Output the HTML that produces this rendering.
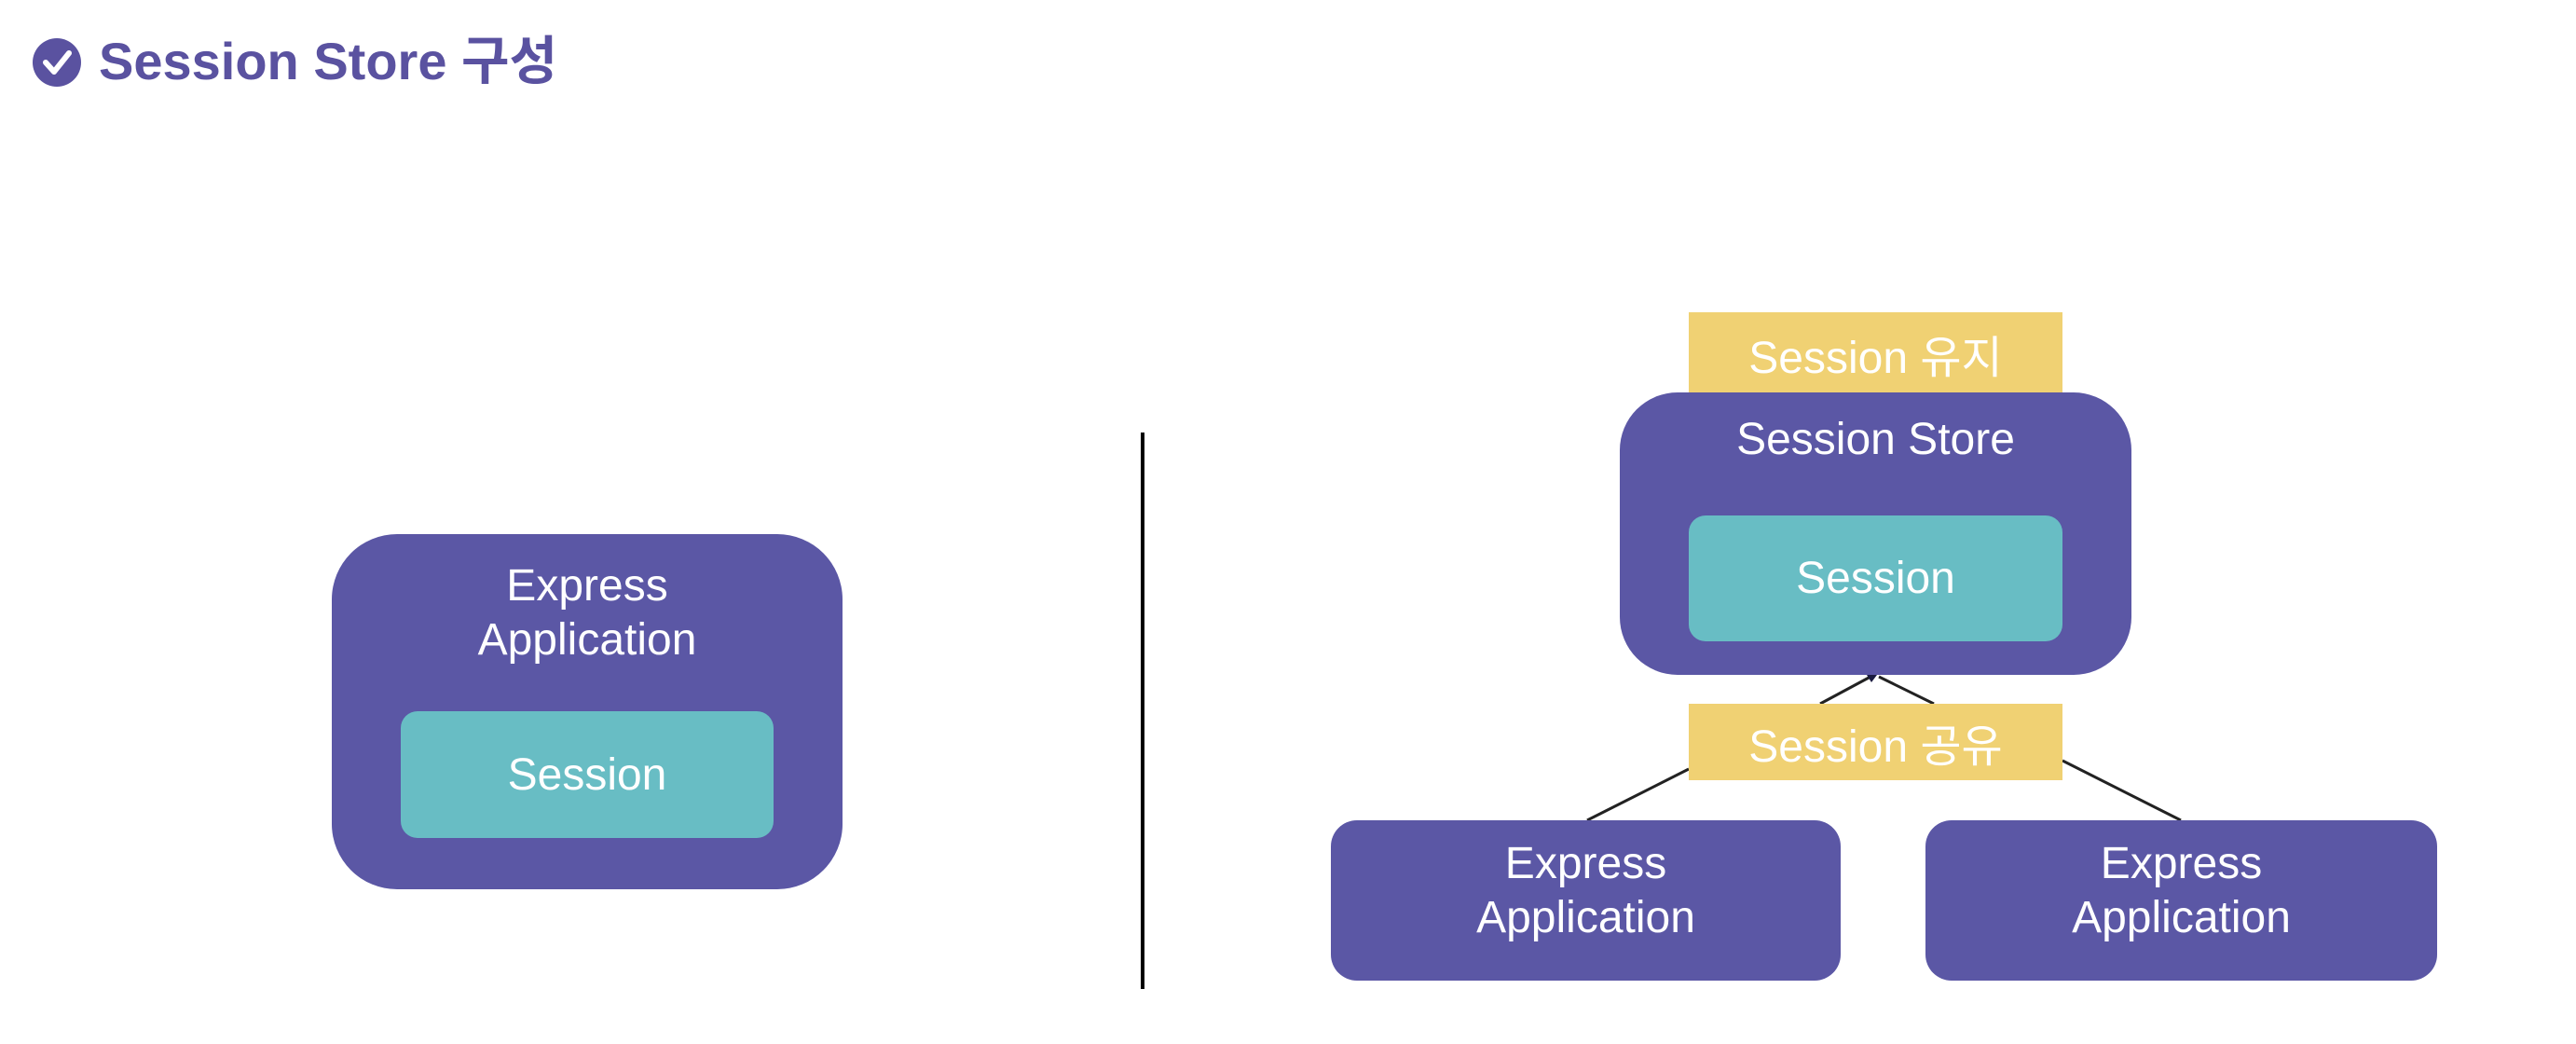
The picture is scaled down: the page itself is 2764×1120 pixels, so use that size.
<!DOCTYPE html>
<html><head><meta charset="utf-8"><style>
html,body{margin:0;padding:0;background:#fff;}
body{width:2764px;height:1120px;position:relative;overflow:hidden;font-family:"Liberation Sans","Noto Sans CJK KR",sans-serif;}
.b{position:absolute;box-sizing:border-box;display:flex;align-items:center;justify-content:center;text-align:center;color:#fff;}
.p{background:#5b57a5;}
.t{background:#68bdc4;border-radius:18px;font-size:48px;}
.y{background:#f0d173;font-size:48px;}
.lbl{position:absolute;left:0;right:0;text-align:center;color:#fff;font-size:48px;line-height:58px;}
</style></head><body>
<svg style="position:absolute;left:0;top:0" width="2764" height="1120">
<circle cx="61" cy="67" r="26" fill="#5a52a0"/>
<polyline points="49,67 58,77 74,57" fill="none" stroke="#fff" stroke-width="6" stroke-linecap="round" stroke-linejoin="round"/>
<line x1="1226" y1="464" x2="1226" y2="1061" stroke="#000" stroke-width="4"/>
<line x1="1703" y1="880" x2="1812" y2="825" stroke="#222" stroke-width="3"/>
<line x1="2340" y1="880" x2="2213" y2="816" stroke="#222" stroke-width="3"/>
<line x1="1953" y1="755" x2="2007" y2="726" stroke="#222" stroke-width="3"/>
<line x1="2075" y1="755" x2="2016" y2="726" stroke="#222" stroke-width="3"/>
<polygon points="2003,724 2014,724 2008,732" fill="#1a1a40"/>
</svg>
<div style="position:absolute;left:106px;top:28px;font-size:56px;font-weight:bold;color:#5a52a0;line-height:76px;white-space:nowrap;">Session Store 구성</div>

<div class="b p" style="left:356px;top:573px;width:548px;height:381px;border-radius:70px;"></div>
<div class="lbl" style="left:356px;width:548px;top:600px;">Express<br>Application</div>
<div class="b t" style="left:430px;top:763px;width:400px;height:136px;">Session</div>

<div class="b y" style="left:1812px;top:335px;width:401px;height:87px;">Session 유지</div>
<div class="b p" style="left:1738px;top:421px;width:549px;height:303px;border-radius:62px;"></div>
<div class="lbl" style="left:1738px;width:549px;top:443px;">Session Store</div>
<div class="b t" style="left:1812px;top:553px;width:401px;height:135px;">Session</div>
<div class="b y" style="left:1812px;top:755px;width:401px;height:82px;">Session 공유</div>

<div class="b p" style="left:1428px;top:880px;width:547px;height:172px;border-radius:28px;"></div>
<div class="lbl" style="left:1428px;width:547px;top:898px;">Express<br>Application</div>
<div class="b p" style="left:2066px;top:880px;width:549px;height:172px;border-radius:28px;"></div>
<div class="lbl" style="left:2066px;width:549px;top:898px;">Express<br>Application</div>
</body></html>
